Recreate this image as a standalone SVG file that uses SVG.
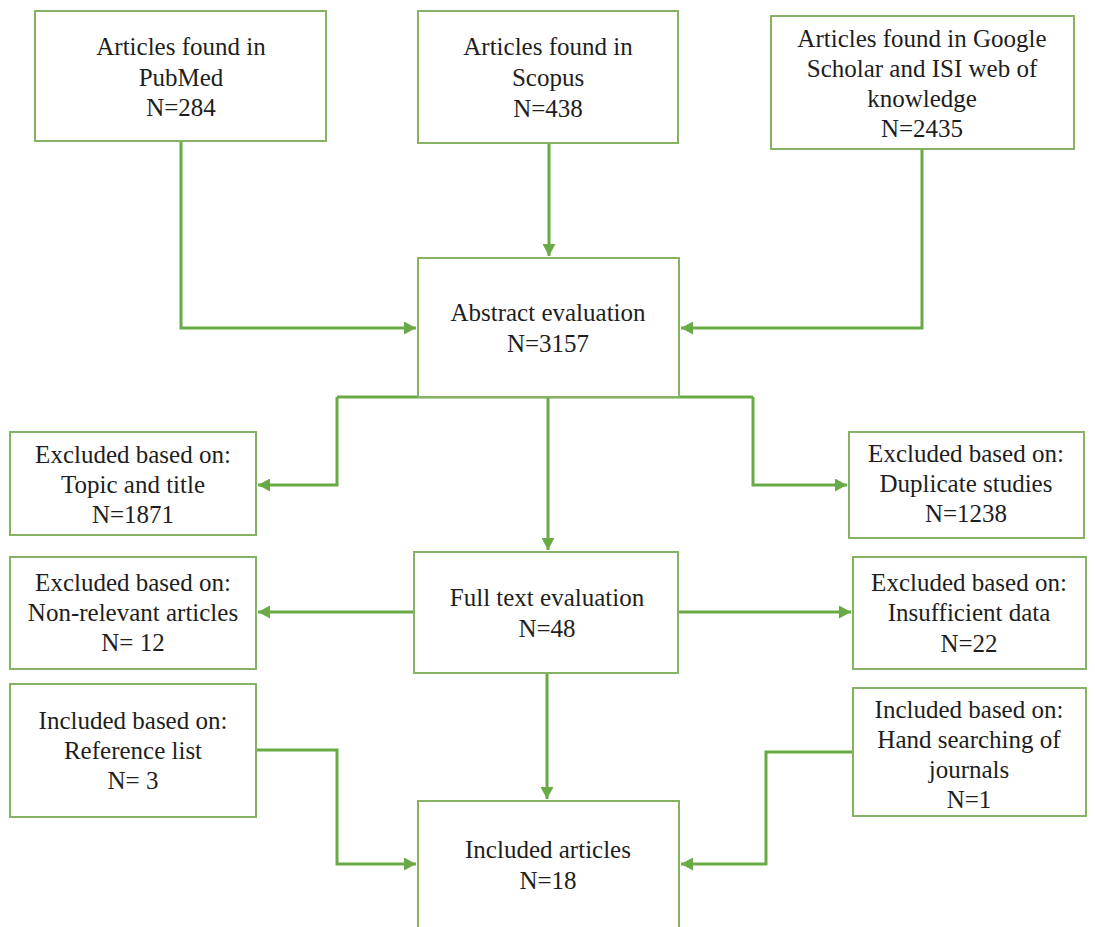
<svg xmlns="http://www.w3.org/2000/svg" width="1095" height="927" viewBox="0 0 1095 927">
<style>
.box{fill:#ffffff;stroke:#86b264;stroke-width:2}
.t{font-family:"Liberation Serif","Times New Roman",serif;font-size:25px;fill:#1e1e1e;text-anchor:middle}
.c{fill:none;stroke:#6aaa46;stroke-width:3}
</style>
<defs>
<marker id="ah" markerUnits="userSpaceOnUse" markerWidth="13" markerHeight="13" refX="12" refY="6.5" orient="auto">
<path d="M0,0 L12,6.5 L0,13 z" fill="#6aaa46"/>
</marker>
</defs>
<rect width="1095" height="927" fill="#ffffff"/>
<g id="connectors">
<path class="c" d="M181,141 V328 H416" marker-end="url(#ah)"/>
<path class="c" d="M549,143 V256" marker-end="url(#ah)"/>
<path class="c" d="M922,149 V328 H681" marker-end="url(#ah)"/>
<path class="c" d="M337,397 H753"/>
<path class="c" d="M337,397 V485 H258" marker-end="url(#ah)"/>
<path class="c" d="M753,397 V485 H847" marker-end="url(#ah)"/>
<path class="c" d="M548,397 V550" marker-end="url(#ah)"/>
<path class="c" d="M414,612 H258" marker-end="url(#ah)"/>
<path class="c" d="M678,612 H851" marker-end="url(#ah)"/>
<path class="c" d="M547,673 V799" marker-end="url(#ah)"/>
<path class="c" d="M256,750 H337 V864 H416" marker-end="url(#ah)"/>
<path class="c" d="M853,752 H766 V864 H681" marker-end="url(#ah)"/>
</g>
<g id="pubmed">
<rect class="box" x="35" y="11" width="291" height="130"/>
<text class="t" x="181" y="55">Articles found in</text>
<text class="t" x="181" y="86">PubMed</text>
<text class="t" x="181" y="116">N=284</text>
</g>
<g id="scopus">
<rect class="box" x="418" y="11" width="260" height="132"/>
<text class="t" x="548" y="55">Articles found in</text>
<text class="t" x="548" y="86">Scopus</text>
<text class="t" x="548" y="117">N=438</text>
</g>
<g id="google">
<rect class="box" x="771" y="16" width="303" height="133"/>
<text class="t" x="922" y="47">Articles found in Google</text>
<text class="t" x="922" y="77">Scholar and ISI web of</text>
<text class="t" x="922" y="107">knowledge</text>
<text class="t" x="922" y="137">N=2435</text>
</g>
<g id="abstract">
<rect class="box" x="418" y="258" width="261" height="139"/>
<text class="t" x="548" y="321">Abstract evaluation</text>
<text class="t" x="548" y="352">N=3157</text>
</g>
<g id="topic">
<rect class="box" x="10" y="432" width="246" height="103"/>
<text class="t" x="133" y="463">Excluded based on:</text>
<text class="t" x="133" y="493">Topic and title</text>
<text class="t" x="133" y="523">N=1871</text>
</g>
<g id="duplicate">
<rect class="box" x="849" y="432" width="235" height="106"/>
<text class="t" x="966" y="462">Excluded based on:</text>
<text class="t" x="966" y="492">Duplicate studies</text>
<text class="t" x="966" y="522">N=1238</text>
</g>
<g id="fulltext">
<rect class="box" x="414" y="552" width="264" height="121"/>
<text class="t" x="547" y="606">Full text evaluation</text>
<text class="t" x="547" y="637">N=48</text>
</g>
<g id="nonrelevant">
<rect class="box" x="10" y="557" width="246" height="112"/>
<text class="t" x="133" y="591">Excluded based on:</text>
<text class="t" x="133" y="621">Non-relevant articles</text>
<text class="t" x="133" y="651">N= 12</text>
</g>
<g id="insufficient">
<rect class="box" x="853" y="557" width="233" height="112"/>
<text class="t" x="969" y="591">Excluded based on:</text>
<text class="t" x="969" y="621">Insufficient data</text>
<text class="t" x="969" y="652">N=22</text>
</g>
<g id="reflist">
<rect class="box" x="10" y="684" width="246" height="133"/>
<text class="t" x="133" y="729">Included based on:</text>
<text class="t" x="133" y="759">Reference list</text>
<text class="t" x="133" y="789">N= 3</text>
</g>
<g id="hand">
<rect class="box" x="853" y="688" width="233" height="128"/>
<text class="t" x="969" y="718">Included based on:</text>
<text class="t" x="969" y="748">Hand searching of</text>
<text class="t" x="969" y="778">journals</text>
<text class="t" x="969" y="808">N=1</text>
</g>
<g id="included">
<rect class="box" x="418" y="801" width="261" height="140"/>
<text class="t" x="548" y="858">Included articles</text>
<text class="t" x="548" y="889">N=18</text>
</g>
</svg>
